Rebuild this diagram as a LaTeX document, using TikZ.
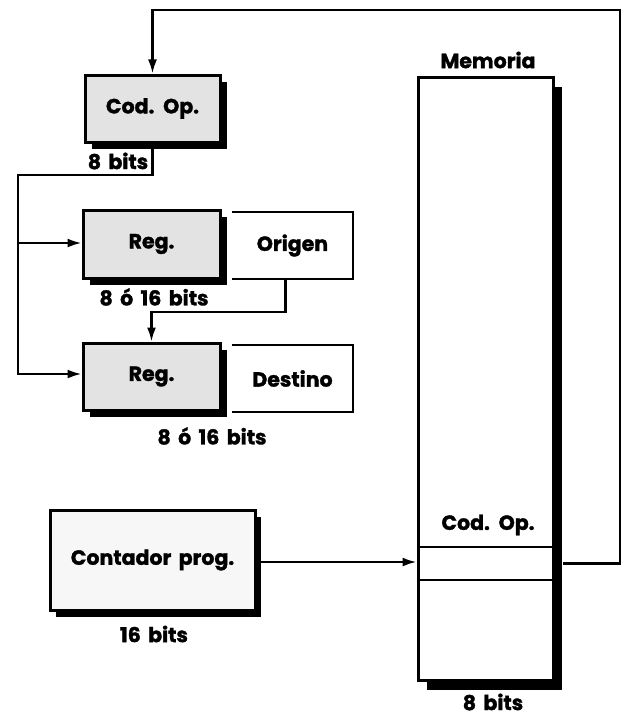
\documentclass[tikz,border=0pt]{standalone}
\usepackage{fontspec}
\setmainfont{Poppins}[WordSpace=1.7, BoldFeatures={FakeBold=1.5}]
\usetikzlibrary{shadows,arrows.meta}
\begin{document}
\begin{tikzpicture}[x=1pt,y=-1pt,
  every node/.style={font=\fontsize{20.5}{24}\selectfont\bfseries, inner sep=0pt},
  regbox/.style={draw, line width=3pt, fill=gray!22,
     drop shadow={shadow xshift=7pt, shadow yshift=-7pt, fill=black, opacity=1}},
  openbox/.style={inner sep=0pt},
  conn/.style={line width=2.2pt},
  arr/.style={conn, -{Latex[length=14pt,width=9pt]}},
  lbl/.style={font=\fontsize{20.5}{24}\selectfont\bfseries}]
\useasboundingbox (0,0) rectangle (630,717);

% memory
\node[draw, line width=3pt, fill=white, minimum width=135pt, minimum height=603pt,
  drop shadow={shadow xshift=9pt, shadow yshift=-10pt, fill=black, opacity=1}] (mem) at (485.5,378.5) {};
\node[draw, line width=2.4pt, minimum width=135pt, minimum height=33pt] (cell) at (485.5,563.5) {};
\node[lbl] (memlbl) at (488,60) {Memoria};
\node[lbl] (memcod) at (488,525) {Cod. Op.};
\node[lbl] (membits) at (493,702) {8 bits};

% opcode register
\node[regbox, minimum width=135pt, minimum height=67pt] (codop) at (152.5,108.5) {Cod. Op.};
\node[lbl] (codbits) at (118,161) {8 bits};

% source register
\node[regbox, minimum width=137pt, minimum height=68pt] (reg1) at (151.5,244) {Reg.};
\node[openbox, minimum width=121pt, minimum height=67pt] (orig) at (292.5,245.5) {Origen};
\draw[line width=1.8pt] (orig.north west) -- (orig.north east) -- (orig.south east) -- (orig.south west);
\node[lbl] (r1bits) at (154,297) {8 ó 16 bits};

% destination register
\node[regbox, minimum width=137pt, minimum height=67pt] (reg2) at (151.5,376.5) {Reg.};
\node[openbox, minimum width=121pt, minimum height=67pt] (dest) at (292.5,378.5) {Destino};
\draw[line width=1.8pt] (dest.north west) -- (dest.north east) -- (dest.south east) -- (dest.south west);
\node[lbl] (r2bits) at (212,436) {8 ó 16 bits};

% program counter
\node[draw, line width=3pt, fill=gray!6, minimum width=205pt, minimum height=100pt,
  drop shadow={shadow xshift=6pt, shadow yshift=-7pt, fill=black, opacity=1}] (pc) at (152.5,560) {Contador prog.};
\node[lbl] (pcbits) at (154,634) {16 bits};

% connectors
\draw[arr] ([xshift=9pt]cell.east) -- (620,563.5) -- (620,10) -| (codop.north);
\draw[conn] (codop.south) -- (152.5,175) -- (18,175) -- (18,243);
\draw[arr] (18,243) -- (reg1.west |- 0,243);
\draw[arr] (18,243) -- (18,374) -- (reg2.west |- 0,374);
\draw[arr] ([xshift=-7pt]orig.south) -- ++(0,33) -| (reg2.north);
\draw[arr] (pc.east |- 0,562) -- (mem.west |- 0,562);
\end{tikzpicture}
\end{document}
